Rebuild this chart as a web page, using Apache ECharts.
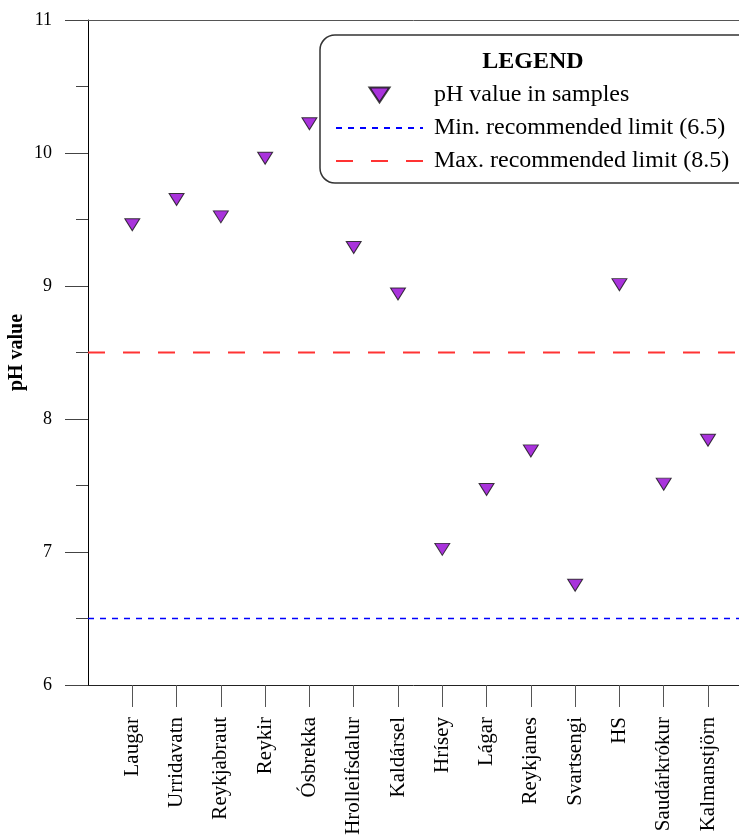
<!DOCTYPE html>
<html>
<head>
<meta charset="utf-8">
<script src="https://cdn.jsdelivr.net/npm/echarts@6/dist/echarts.min.js"></script>
<style>
  html, body { margin: 0; padding: 0; background: #fff; }
  #chart { width: 739px; height: 836px; }
</style>
</head>
<body>
<div id="chart"></div>
<script>
// Sampling sites along the x axis
const sites = ['Laugar', 'Urridavatn', 'Reykjabraut', 'Reykir', 'Ósbrekka', 'Hrolleifsdalur',
  'Kaldársel', 'Hrísey', 'Lágar', 'Reykjanes', 'Svartsengi', 'HS', 'Saudárkrókur', 'Kalmanstjörn'];
// Measured pH per site
const phValues = [9.46, 9.65, 9.52, 9.96, 10.22, 9.29, 8.94, 7.02, 7.47, 7.76, 6.75, 9.01, 7.51, 7.84];
// Recommended limits
const minLimit = 6.5;
const maxLimit = 8.5;
// Y axis range and step
const yMin = 6, yMax = 11, yStep = 1;
// X axis extent (site slots run 1..n, with room on the right)
const xMin = 0, xMax = 14.7;

const serif = 'Liberation Serif, Times New Roman, serif';
const siteTicks = sites.map((_, i) => i + 1);
const downTriangle = 'path://M0,0L20,0L10,15Z';

const chart = echarts.init(document.getElementById('chart'));
chart.setOption({
  animation: false,
  backgroundColor: '#fff',
  grid: { left: 88, right: 0, top: 20, bottom: 151, containLabel: false, outerBoundsMode: 'none' },
  xAxis: [{
    type: 'value', min: xMin, max: xMax, position: 'bottom',
    splitLine: { show: false },
    axisLine: { show: true, lineStyle: { color: '#222', width: 1 } },
    axisTick: { show: true, customValues: siteTicks, length: 22, lineStyle: { color: '#555' } },
    axisLabel: {
      customValues: siteTicks, rotate: 90, margin: 32,
      fontFamily: serif, fontSize: 21, color: '#000',
      formatter: v => sites[Math.round(v) - 1] || ''
    }
  }, {
    type: 'value', min: xMin, max: xMax, position: 'top',
    splitLine: { show: false },
    axisLine: { show: true, lineStyle: { color: '#555', width: 1 } },
    axisTick: { show: false }, axisLabel: { show: false }
  }],
  yAxis: {
    type: 'value', min: yMin, max: yMax, interval: yStep,
    name: 'pH value', nameLocation: 'middle', nameGap: 61, nameMoveOverlap: false,
    nameTextStyle: { fontFamily: serif, fontSize: 20, fontWeight: 'bold', color: '#000' },
    splitLine: { show: false },
    axisLine: { show: true, lineStyle: { color: '#000', width: 1 } },
    axisTick: { show: true, length: 23, lineStyle: { color: '#444' } },
    minorTick: { show: true, splitNumber: 2, length: 12, lineStyle: { color: '#444' } },
    axisLabel: { margin: 36, fontFamily: serif, fontSize: 18, color: '#000' }
  },
  legend: {
    orient: 'vertical', left: 330, top: 78,
    itemWidth: 87, itemHeight: 15, itemGap: 9,
    textStyle: { fontFamily: serif, fontSize: 24, color: '#000', lineHeight: 24, padding: [0, 0, 0, 6] },
    data: [
      { name: 'pH value in samples' },
      { name: 'Min. recommended limit (6.5)', itemStyle: { opacity: 0 } },
      { name: 'Max. recommended limit (8.5)', itemStyle: { opacity: 0 } }
    ]
  },
  graphic: [{
    type: 'rect', z: 0,
    shape: { x: 320, y: 35, width: 440, height: 148, r: 15 },
    style: { fill: '#fff', stroke: '#333', lineWidth: 1.5 }
  }, {
    type: 'text', z: 1, x: 533, y: 62,
    style: { text: 'LEGEND', fontFamily: serif, fontSize: 24, fontWeight: 'bold',
      fill: '#000', align: 'center', verticalAlign: 'middle' }
  }],
  series: [{
    name: 'pH value in samples', type: 'scatter', z: 5,
    symbol: downTriangle, symbolSize: [15, 12],
    itemStyle: { color: '#9400d3', borderColor: '#111', borderWidth: 1 },
    data: phValues.map((v, i) => [i + 1, v])
  }, {
    name: 'Min. recommended limit (6.5)', type: 'line', symbol: 'none', z: 3,
    lineStyle: { color: '#0000ff', width: 1.5, type: [6, 6] },
    data: [[xMin, minLimit], [xMax, minLimit]]
  }, {
    name: 'Max. recommended limit (8.5)', type: 'line', symbol: 'none', z: 3,
    lineStyle: { color: '#ff3333', width: 2, type: [17, 18] },
    data: [[xMin, maxLimit], [xMax, maxLimit]]
  }]
});
</script>
</body>
</html>
